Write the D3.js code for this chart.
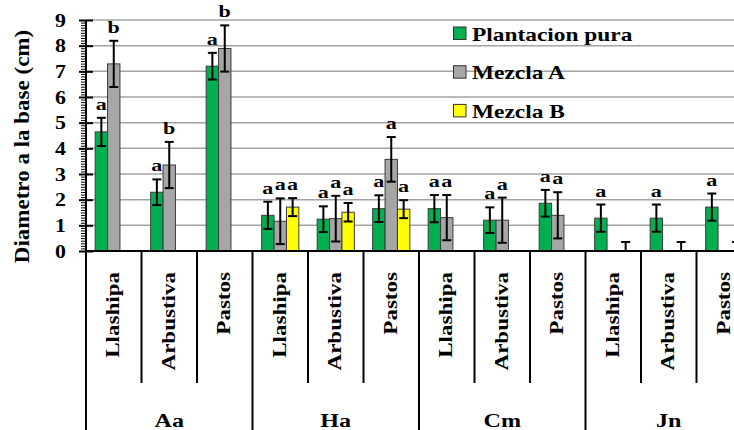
<!DOCTYPE html>
<html>
<head>
<meta charset="utf-8">
<script src="https://cdn.jsdelivr.net/npm/d3@7"></script>
<style>
  html, body { margin: 0; padding: 0; background: #fff; }
  svg { display: block; }
  text { font-family: "Liberation Serif", "Times New Roman", serif; font-weight: bold; fill: #000; }
</style>
</head>
<body>
<svg id="chart" width="734" height="430"></svg>
<script>
// Sites (outer grouping) and vegetation types (inner grouping)
const sites = ["Aa", "Ha", "Cm", "Jn"];
const habitats = ["Llashipa", "Arbustiva", "Pastos"];
const seriesNames = ["Plantacion pura", "Mezcla A", "Mezcla B"];
const seriesColors = ["#00b050", "#a6a6a6", "#ffff00"];

// Mean basal diameter (cm), one value per site × vegetation type
const pura      = [4.64, 2.29, 7.20, 1.39, 1.24, 1.65, 1.65, 1.20, 1.86, 1.28, 1.28, 1.71];
const puraErr   = [0.55, 0.50, 0.52, 0.53, 0.50, 0.52, 0.53, 0.50, 0.52, 0.53, 0.53, 0.53];
const mezclaA    = [7.29, 3.35, 7.89, 1.16, 1.26, 3.57, 1.30, 1.20, 1.39, null, null, null];
const mezclaAErr = [0.90, 0.90, 0.90, 0.89, 0.89, 0.87, 0.88, 0.88, 0.90, null, null, null];
const mezclaB    = [null, null, null, 1.71, 1.51, 1.63, null, null, null, 0, 0, 0];
const mezclaBErr = [null, null, null, 0.35, 0.36, 0.35, null, null, null, 0.35, 0.35, 0.35];

// Significance letters
const puraLetters    = ["a", "a", "a", "a", "a", "a", "a", "a", "a", "a", "a", "a"];
const mezclaALetters = ["b", "b", "b", "a", "a", "a", "a", "a", "a", null, null, null];
const mezclaBLetters = [null, null, null, "a", "a", "a", null, null, null, null, null, null];

const yTicks = [0, 1, 2, 3, 4, 5, 6, 7, 8, 9];
const yTitle = "Diametro a la base (cm)";

const values = [pura, mezclaA, mezclaB];
const errors = [puraErr, mezclaAErr, mezclaBErr];
const letters = [puraLetters, mezclaALetters, mezclaBLetters];

const keys = [];
sites.forEach(s => habitats.forEach(h => keys.push(s + "|" + h)));

const svg = d3.select("#chart");
const W = 734, H = 430;
const plotLeft = 86, plotRight = 752, plotTop = 20, plotBottom = 251;

const x0 = d3.scaleBand().domain(keys).range([plotLeft, plotRight]).padding(0);
const x1 = d3.scaleBand().domain(seriesNames).range([0, x0.bandwidth()]).paddingOuter(0.74).paddingInner(0);
const y = d3.scaleLinear().domain([0, 9]).range([plotBottom, plotTop]);

// Horizontal gridlines
svg.append("g").selectAll("line").data(yTicks.filter(d => d > 0)).join("line")
  .attr("x1", plotLeft).attr("x2", W)
  .attr("y1", d => y(d)).attr("y2", d => y(d))
  .attr("stroke", "#a3a3a3").attr("stroke-width", 1.5);

// Bars
const bars = [];
keys.forEach((k, i) => {
  seriesNames.forEach((s, j) => {
    const v = values[j][i];
    if (v === null) return;
    bars.push({ key: k, series: s, j, v, e: errors[j][i], lab: letters[j][i] });
  });
});

svg.append("g").selectAll("rect").data(bars.filter(b => b.v > 0)).join("rect")
  .attr("x", b => x0(b.key) + x1(b.series))
  .attr("y", b => y(b.v))
  .attr("width", x1.bandwidth())
  .attr("height", b => y(0) - y(b.v))
  .attr("fill", b => seriesColors[b.j])
  .attr("stroke", "#3a3a3a").attr("stroke-width", 1);

// Error bars
const eb = svg.append("g").attr("stroke", "#000").attr("stroke-width", 2);
bars.forEach(b => {
  const cx = x0(b.key) + x1(b.series) + x1.bandwidth() / 2;
  const hi = b.v + b.e, lo = Math.max(0, b.v - b.e);
  eb.append("line").attr("x1", cx).attr("x2", cx).attr("y1", y(hi)).attr("y2", y(lo));
  eb.append("line").attr("x1", cx - 4.5).attr("x2", cx + 4.5).attr("y1", y(hi)).attr("y2", y(hi));
  if (b.v - b.e > 0) {
    eb.append("line").attr("x1", cx - 4.5).attr("x2", cx + 4.5).attr("y1", y(lo)).attr("y2", y(lo));
  }
});

// Significance letters
bars.filter(b => b.lab).forEach(b => {
  const cx = x0(b.key) + x1(b.series) + x1.bandwidth() / 2;
  svg.append("text")
    .attr("transform", `translate(${cx},${y(b.v + b.e) - 8}) scale(1.3,1)`)
    .attr("text-anchor", "middle")
    .style("font-size", "17px")
    .text(b.lab);
});

// Y axis: minor ticks every 0.1, major ticks crossing the axis
const yAxisG = svg.append("g").attr("transform", `translate(${plotLeft},0)`);
yAxisG.call(d3.axisLeft(y).tickValues(d3.range(0, 91).map(d => d / 10)).tickSize(5).tickFormat(""))
  .call(g => g.select(".domain").remove())
  .call(g => g.selectAll(".tick line").attr("stroke", "#000").attr("stroke-width", 1));
yAxisG.append("g").call(d3.axisLeft(y).tickValues(yTicks).tickSize(7).tickFormat(""))
  .call(g => g.select(".domain").remove())
  .call(g => g.selectAll(".tick line").attr("stroke", "#000").attr("stroke-width", 2));
yAxisG.append("g").call(d3.axisRight(y).tickValues(yTicks).tickSize(7).tickFormat(""))
  .call(g => g.select(".domain").remove())
  .call(g => g.selectAll(".tick line").attr("stroke", "#000").attr("stroke-width", 2));
yAxisG.append("line").attr("x1", 0).attr("x2", 0).attr("y1", y(9)).attr("y2", y(0))
  .attr("stroke", "#000").attr("stroke-width", 2);

svg.append("g").selectAll("text").data(yTicks).join("text")
  .attr("transform", d => `translate(66,${y(d) + 6.5}) scale(1.15,1)`)
  .attr("text-anchor", "end")
  .style("font-size", "19px")
  .text(d => d);

// Y axis title
svg.append("text")
  .attr("transform", `translate(29,${(plotTop + plotBottom) / 2 + 11}) rotate(-90) scale(1.15,1)`)
  .attr("text-anchor", "middle")
  .style("font-size", "20px")
  .text(yTitle);

// Category axis: baseline, separators and labels
svg.append("line").attr("x1", plotLeft).attr("x2", W).attr("y1", plotBottom).attr("y2", plotBottom)
  .attr("stroke", "#000").attr("stroke-width", 2);

const sepG = svg.append("g").attr("stroke", "#000").attr("stroke-width", 2);
keys.forEach((k, i) => {
  const xs = x0(k);
  const isGroupEdge = i % habitats.length === 0;
  sepG.append("line").attr("x1", xs).attr("x2", xs)
    .attr("y1", plotBottom).attr("y2", isGroupEdge ? H : 383);
});
sepG.append("line").attr("x1", plotRight).attr("x2", plotRight).attr("y1", plotBottom).attr("y2", H);

svg.append("g").selectAll("text").data(keys).join("text")
  .attr("transform", k => `translate(${x0(k) + x0.bandwidth() / 2 + 5.5},272) rotate(-90) scale(1.28,1)`)
  .attr("text-anchor", "end")
  .style("font-size", "18px")
  .text(k => k.split("|")[1]);

svg.append("g").selectAll("text").data(sites).join("text")
  .attr("transform", (s, i) => {
    const a = x0(keys[i * 3]), b = x0(keys[i * 3 + 2]) + x0.bandwidth();
    return `translate(${(a + b) / 2},427) scale(1.27,1)`;
  })
  .attr("text-anchor", "middle")
  .style("font-size", "19px")
  .text(s => s);

// Legend
const leg = svg.append("g");
seriesNames.forEach((s, i) => {
  const ty = 27 + i * 38.7;
  leg.append("rect").attr("x", 453.5).attr("y", ty).attr("width", 12.5).attr("height", 12.5)
    .attr("fill", seriesColors[i]).attr("stroke", "#333").attr("stroke-width", 1);
  leg.append("text")
    .attr("transform", `translate(472,${ty + 13.5}) scale(1.3,1)`)
    .style("font-size", "18px")
    .text(s);
});
</script>
</body>
</html>
